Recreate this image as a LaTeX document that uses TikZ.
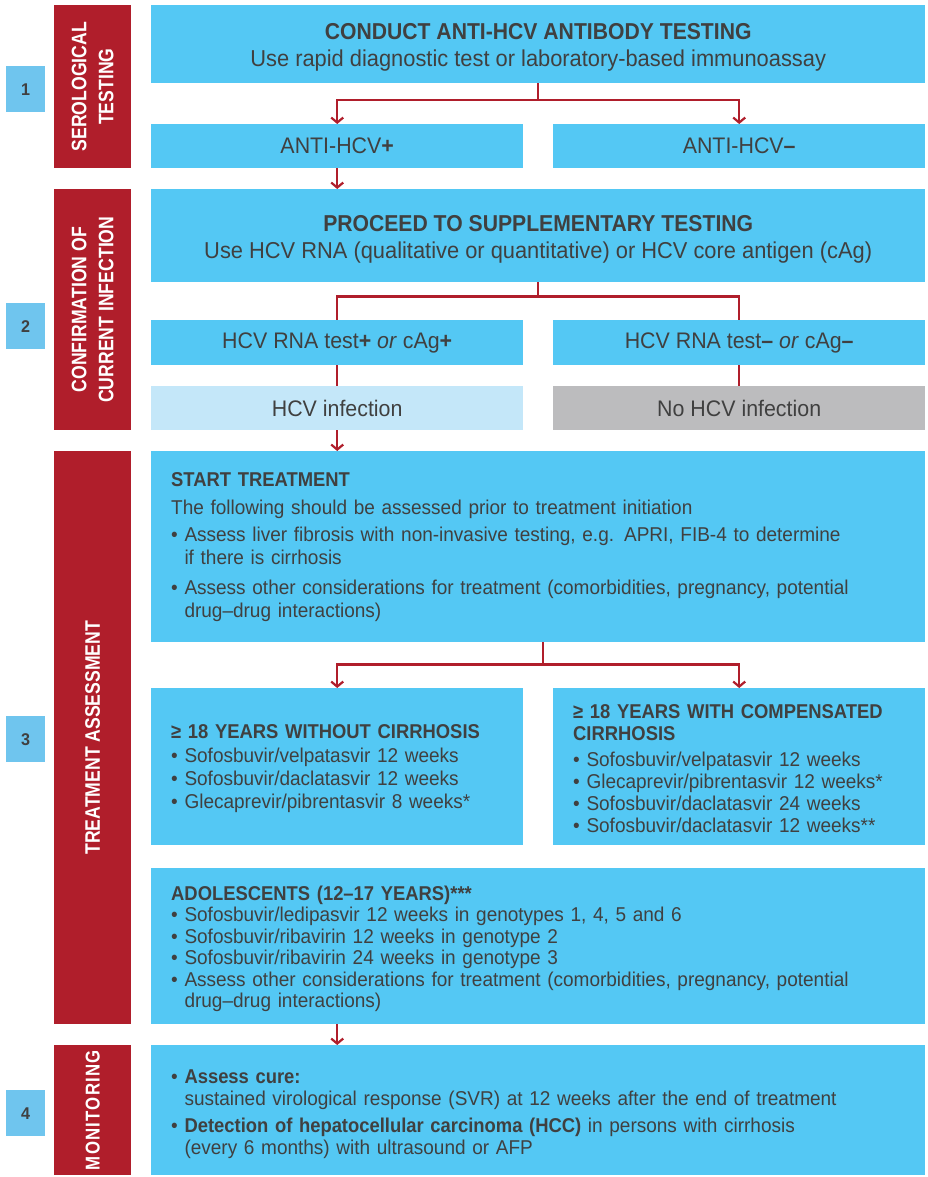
\documentclass[tikz,border=0pt]{standalone}
\usepackage{fontspec}
\setmainfont{Liberation Sans}[FakeStretch=0.95]
\newfontfamily\barfont{Liberation Sans}[FakeStretch=0.84]
\newfontfamily\headfont{Liberation Sans}[FakeStretch=0.92]
\usetikzlibrary{arrows.meta,calc}
\definecolor{cblue}{HTML}{54C8F4}
\definecolor{cred}{HTML}{B01E2B}
\definecolor{cnum}{HTML}{6FC5EE}
\definecolor{clight}{HTML}{C4E7F9}
\definecolor{cgray}{HTML}{BCBCBE}
\definecolor{ctext}{HTML}{404040}
\newcommand\hng{\phantom{•\ }}
\newcommand\hd[1]{{\headfont\bfseries #1}}
\begin{document}
\begin{tikzpicture}[x=1pt,y=-1pt,
  box/.style={fill=cblue, anchor=north west, inner sep=0pt, text=ctext, align=center},
  lbox/.style={box, align=left, inner xsep=20pt, text width=#1},
  bar/.style={fill=cred, anchor=north west, inner sep=0pt, minimum width=77pt},
  bartext/.style={text=white, rotate=90, align=center, font=\barfont\bfseries\fontsize{21}{27}\selectfont},
  num/.style={fill=cnum, anchor=north west, minimum width=39pt, minimum height=46pt, inner sep=0pt, text=ctext, font=\bfseries\fontsize{17}{20}\selectfont},
  conn/.style={draw=cred, line width=2.2pt},
  arr/.style={conn, -{Straight Barb[length=5pt,width=12pt]}},
  bigfont/.style={font=\fontsize{23}{27}\selectfont},
  midfont/.style={font=\fontsize{22.5}{24}\selectfont},
  listfont/.style={font=\fontsize{20}{23}\selectfont},
]
\useasboundingbox[fill=white] (0,0) rectangle (928,1177);

% number boxes
\node[num] (n1) at (6,66) {1};
\node[num] (n2) at (6,303) {2};
\node[num] (n3) at (6,716) {3};
\node[num] (n4) at (6,1090) {4};

% red bars
\node[bar, minimum height=163pt] (r1) at (54,5) {};
\node[bar, minimum height=241pt] (r2) at (54,189) {};
\node[bar, minimum height=573pt] (r3) at (54,451) {};
\node[bar, minimum height=130pt] (r4) at (54,1045) {};
\node[bartext] (rt1) at (r1.center) {SEROLOGICAL\\TESTING};
\node[bartext] (rt2) at (r2.center) {CONFIRMATION OF\\CURRENT INFECTION};
\node[bartext] (rt3) at (r3.center) {TREATMENT ASSESSMENT};
\node[bartext, font=\barfont\bfseries\addfontfeatures{LetterSpace=6}\fontsize{20}{27}\selectfont] (rt4) at (r4.center) {MONITORING};

% step 1
\node[box, bigfont, minimum width=774pt, minimum height=78pt] (b1) at (151,5)
  {\rule{0pt}{22.5pt}\hd{CONDUCT ANTI-HCV ANTIBODY TESTING}\\Use rapid diagnostic test or laboratory-based immunoassay};
\node[box, midfont, minimum width=372pt, minimum height=44pt] (pos) at (151,124) {ANTI-HCV\textbf{+}};
\node[box, midfont, minimum width=372pt, minimum height=44pt] (neg) at (553,124) {ANTI-HCV\textbf{–}};

% step 2
\node[box, bigfont, minimum width=774pt, minimum height=93pt] (b2) at (151,189)
  {\rule{0pt}{23pt}\hd{PROCEED TO SUPPLEMENTARY TESTING}\\Use HCV RNA (qualitative or quantitative) or HCV core antigen (cAg)};
\node[box, midfont, minimum width=372pt, minimum height=45pt] (rpos) at (151,320) {HCV RNA test\textbf{+} \textit{or} cAg\textbf{+}};
\node[box, midfont, minimum width=372pt, minimum height=45pt] (rneg) at (553,320) {HCV RNA test\textbf{–} \textit{or} cAg\textbf{–}};
\node[box, fill=clight, midfont, minimum width=372pt, minimum height=44pt] (inf) at (151,386) {HCV infection};
\node[box, fill=cgray, midfont, minimum width=372pt, minimum height=44pt] (noinf) at (553,386) {No HCV infection};

% step 3
\node[lbox=734pt, listfont, minimum height=191pt] (st) at (151,451)
  {\hd{START TREATMENT}\\[5pt]
   The following should be assessed prior to treatment initiation\\[4pt]
   • Assess liver fibrosis with non-invasive testing, e.g. APRI, FIB-4 to determine\\
   \hng if there is cirrhosis\\[7pt]
   • Assess other considerations for treatment (comorbidities, pregnancy, potential\\
   \hng drug–drug interactions)};
\node[lbox=332pt, listfont, minimum height=157pt] (nocir) at (151,688)
  {\rule{0pt}{17.5pt}\hd{≥ 18 YEARS WITHOUT CIRRHOSIS}\\[1pt]
   • Sofosbuvir/velpatasvir 12 weeks\\
   • Sofosbuvir/daclatasvir 12 weeks\\
   • Glecaprevir/pibrentasvir 8 weeks*};
\node[lbox=332pt, listfont, minimum height=157pt] (cir) at (553,688)
  {\rule{0pt}{17pt}\hd{≥ 18 YEARS WITH COMPENSATED}\\[-1pt]
   \hd{CIRRHOSIS}\\[3pt]
   • Sofosbuvir/velpatasvir 12 weeks\\[-1pt]
   • Glecaprevir/pibrentasvir 12 weeks*\\[-1pt]
   • Sofosbuvir/daclatasvir 24 weeks\\[-1pt]
   • Sofosbuvir/daclatasvir 12 weeks**};
\node[lbox=734pt, listfont, minimum height=156pt] (ado) at (151,868)
  {\rule{0pt}{20pt}\hd{ADOLESCENTS (12–17 YEARS)***}\\[-1.5pt]
   • Sofosbuvir/ledipasvir 12 weeks in genotypes 1, 4, 5 and 6\\[-1.5pt]
   • Sofosbuvir/ribavirin 12 weeks in genotype 2\\[-1.5pt]
   • Sofosbuvir/ribavirin 24 weeks in genotype 3\\[-1.5pt]
   • Assess other considerations for treatment (comorbidities, pregnancy, potential\\[-1.5pt]
   \hng drug–drug interactions)};

% step 4
\node[lbox=734pt, listfont, minimum height=130pt] (mon) at (151,1045)
  {\rule{0pt}{22.5pt}• \hd{Assess cure:}\\[-1pt]
   \hng sustained virological response (SVR) at 12 weeks after the end of treatment\\[4pt]
   • \hd{Detection of hepatocellular carcinoma (HCC)} in persons with cirrhosis\\[-1pt]
   \hng (every 6 months) with ultrasound or AFP};

% connectors
\coordinate (j1) at ($(b1.south)+(0,17)$);
\draw[conn] (b1.south) -- (j1);
\draw[arr] (j1) -| (pos.north);
\draw[arr] (j1) -| (neg.north);
\draw[arr] (pos.south) -- (b2.north -| pos.south);

\coordinate (j2) at ($(b2.south)+(0,14)$);
\draw[conn] (b2.south) -- (j2);
\draw[conn] (j2) -| (rpos.north);
\draw[conn] (j2) -| (rneg.north);
\draw[conn] (rpos.south) -- (inf.north);
\draw[conn] (rneg.south) -- (noinf.north);
\draw[arr] (inf.south) -- (st.north -| inf.south);

\coordinate (j3) at ($(st.south)+(5,22)$);
\draw[conn] (st.south -| j3) -- (j3);
\draw[arr] (j3) -| (nocir.north);
\draw[arr] (j3) -| (cir.north);

\draw[arr] (ado.south -| inf.south) -- (mon.north -| inf.south);
\end{tikzpicture}
\end{document}
